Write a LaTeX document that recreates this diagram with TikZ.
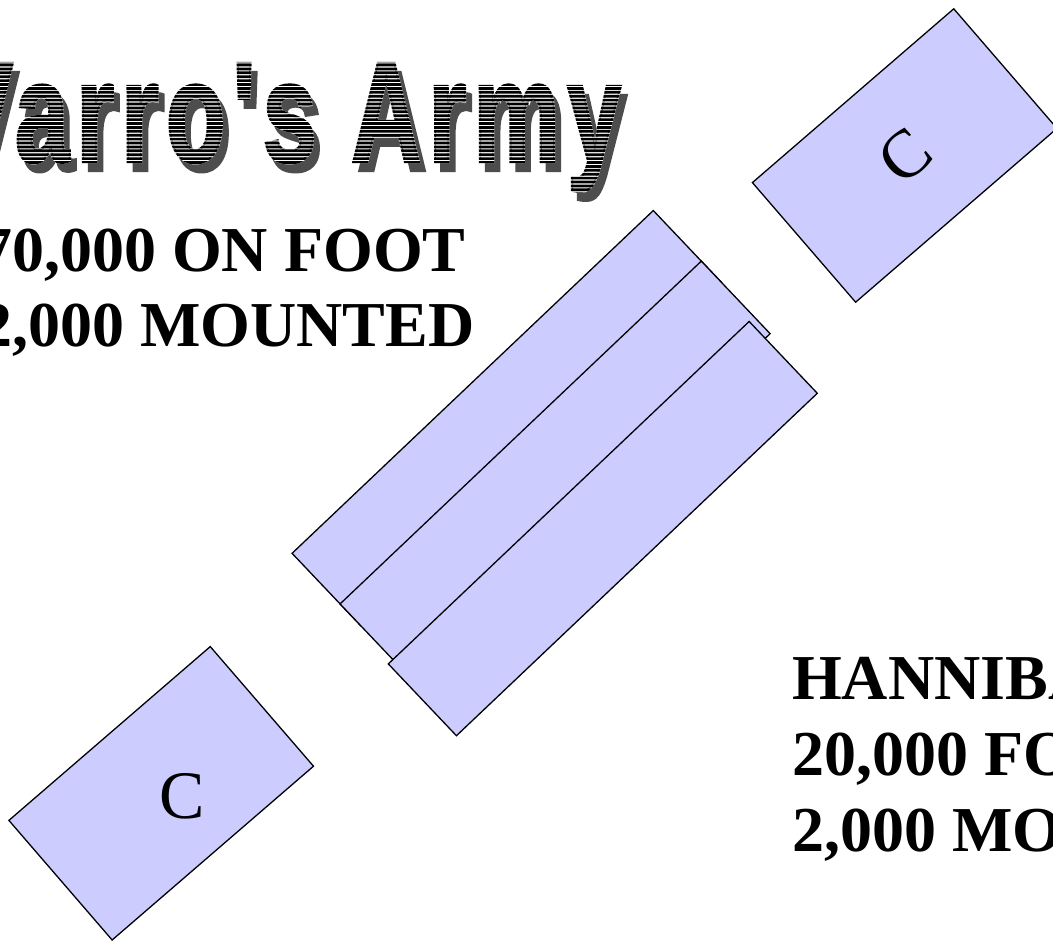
\documentclass[tikz,border=0pt]{standalone}
\usepackage{fontspec}
\setmainfont{Liberation Serif}
\newfontfamily\bannerfont[FakeStretch=0.68,FakeBold=1.5,LetterSpace=4.7,Ligatures=TeXOff]{Liberation Sans}
\usetikzlibrary{positioning}
\definecolor{troop}{RGB}{204,204,255}
\definecolor{shade}{RGB}{77,77,77}

\begin{document}
\begin{tikzpicture}[x=1pt,y=-1pt,
  unit/.style={draw=black,fill=troop,line width=1.3pt,inner sep=0pt},
  horse/.style={unit,minimum width=266pt,minimum height=158pt,rotate=40.8},
  foot/.style={unit,minimum width=498pt,minimum height=100pt,rotate=43.5},
  count/.style={font=\fontsize{64}{76}\selectfont\bfseries,inner sep=0pt,anchor=base west},
  banner/.style={font=\bannerfont\fontsize{144}{150}\selectfont\bfseries,inner sep=0pt,anchor=base west},
  letter/.style={font=\fontsize{68}{70}\selectfont,inner sep=0pt}]
  \path[use as bounding box,fill=white] (0,0) rectangle (1053,941);

  % cavalry on the wings
  \node[horse] (cavR) at (904.7,155.5) {\fontsize{68}{70}\selectfont C};
  \node[horse] (cavL) at (161.2,793.3) {};
  \node[letter] (cavLtext) at (182,796.5) {C};

  % three lines of infantry
  \node[foot] (line1) at (507.1,418.2) {};
  \node[foot] (line2) at (555.1,468.8) {};
  \node[foot,minimum width=497.5pt,minimum height=99pt] (line3) at (602.8,528.6) {};

  % title with shadow and stripes
  \node[banner,text=shade] (titleShadow) at (-46,171) {Varro's Army};
  \node[banner,text=white] (titleBack) at (-52,162) {Varro's Army};
  \begin{scope}
    \clip \foreach \k in {0,...,40} {(-60,52+\k*3.9) rectangle (650,52+\k*3.9+2.7)};
    \node[banner] (title) at (-52,162) {Varro's Army};
  \end{scope}

  % numbers
  \node[count] (varroFoot) at (-20,272) {70,000 ON FOOT};
  \node[count] (varroHorse) at (-20,347) {2,000 MOUNTED};
  \node[count] (hanName) at (792,699) {HANNIBAL};
  \node[count] (hanFoot) at (792,775) {20,000 FOOT};
  \node[count] (hanHorse) at (792,851) {2,000 MOUNTED};
\end{tikzpicture}
\end{document}
